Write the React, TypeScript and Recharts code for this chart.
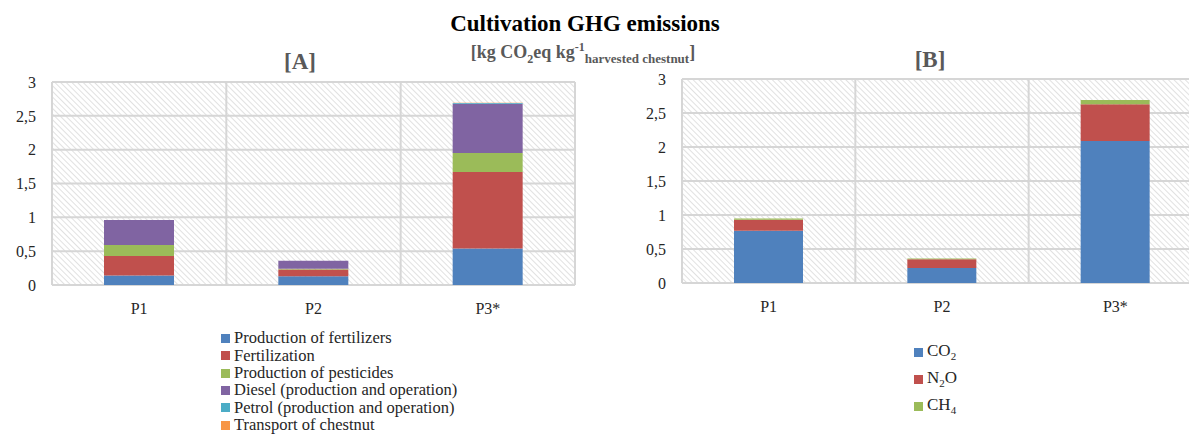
import React from "react";
import { Bar, BarChart, CartesianGrid, XAxis, YAxis } from "recharts";

const categories = ["P1", "P2", "P3*"];

// [A] cultivation GHG by process (kg CO2eq per kg harvested chestnut)
const fertProduction = [0.14, 0.13, 0.54];
const fertilization = [0.29, 0.1, 1.13];
const pesticides = [0.16, 0.01, 0.28];
const diesel = [0.37, 0.12, 0.73];
const petrol = [0, 0, 0.01];
const transport = [0, 0, 0.005];

// [B] by gas
const co2 = [0.77, 0.22, 2.09];
const n2o = [0.16, 0.13, 0.54];
const ch4 = [0.02, 0.01, 0.06];

const yTicks = [0, 0.5, 1, 1.5, 2, 2.5, 3];

const seriesA = [
  { key: "fertProd", name: "Production of fertilizers", color: "#4f81bd" },
  { key: "fertil", name: "Fertilization", color: "#c0504d" },
  { key: "pest", name: "Production of pesticides", color: "#9bbb59" },
  { key: "diesel", name: "Diesel (production and operation)", color: "#8064a2" },
  { key: "petrol", name: "Petrol (production and operation)", color: "#4bacc6" },
  { key: "transport", name: "Transport of chestnut", color: "#f79646" },
];

const seriesB = [
  { key: "co2", name: "CO2", color: "#4f81bd" },
  { key: "n2o", name: "N2O", color: "#c0504d" },
  { key: "ch4", name: "CH4", color: "#9bbb59" },
];

const dataA = categories.map((c, i) => ({
  name: c,
  fertProd: fertProduction[i],
  fertil: fertilization[i],
  pest: pesticides[i],
  diesel: diesel[i],
  petrol: petrol[i],
  transport: transport[i],
}));

const dataB = categories.map((c, i) => ({
  name: c,
  co2: co2[i],
  n2o: n2o[i],
  ch4: ch4[i],
}));

const serif = "'Times New Roman', Tinos, 'Liberation Serif', 'Noto Serif', 'DejaVu Serif', serif";
const gridColor = "#d6d6d6";
const fmt = (v: number) => String(v).replace(".", ",");

// vertical lines on the band edges, plus the plot border
const bandLines = ({ offset }: any) => {
  const w = offset.width / 3;
  return [0, 1, 2, 3].map((i) => offset.left + i * w);
};

function gasLabel(name: string) {
  const m = name.match(/^([A-Z]+)(\d)(.*)$/);
  if (!m) return name;
  return (
    <>
      {m[1]}
      <sub style={{ fontSize: 11 }}>{m[2]}</sub>
      {m[3]}
    </>
  );
}

function LegendList({ items, gap, subs, left, top, size }: any) {
  return (
    <div style={{ position: "absolute", left, top, fontFamily: serif, fontSize: size, lineHeight: 1, color: "#262626" }}>
      {items.map((p: any) => (
        <div key={p.key} style={{ display: "flex", alignItems: "center", height: gap, whiteSpace: "nowrap" }}>
          <span style={{ width: 9, height: 9, background: p.color, marginRight: 4, display: "inline-block" }} />
          <span>{subs ? gasLabel(p.name) : p.name}</span>
        </div>
      ))}
    </div>
  );
}

function Hatch({ id }: { id: string }) {
  return (
    <defs>
      <pattern id={id} patternUnits="userSpaceOnUse" width="4" height="4" patternTransform="rotate(-45)">
        <rect width="4" height="4" fill="#ffffff" />
        <line x1="0" y1="0" x2="0" y2="4" stroke="#c4c4c4" strokeWidth="1" />
      </pattern>
    </defs>
  );
}

export default function App() {
  const tick = { fill: "#262626", fontSize: 16, fontFamily: serif };
  return (
    <div
      style={{
        position: "absolute",
        left: 0,
        top: 0,
        width: 1189,
        height: 439,
        overflow: "hidden",
        background: "#fff",
        fontFamily: serif,
      }}
    >
      <div style={{ position: "absolute", left: 0, width: 1170, top: 11, textAlign: "center", fontWeight: 700, fontSize: 23, color: "#000" }}>
        Cultivation GHG emissions
      </div>
      <div style={{ position: "absolute", left: 0, width: 1166, top: 40, textAlign: "center", fontWeight: 700, fontSize: 18, color: "#595959" }}>
        [kg CO<sub style={{ fontSize: 12 }}>2</sub>eq kg<sup style={{ fontSize: 12 }}>-1</sup>
        <sub style={{ fontSize: 13 }}>harvested chestnut</sub>]
      </div>
      <div style={{ position: "absolute", left: 250, width: 100, top: 49, textAlign: "center", fontWeight: 700, fontSize: 23, color: "#595959" }}>
        [A]
      </div>
      <div style={{ position: "absolute", left: 880, width: 100, top: 47, textAlign: "center", fontWeight: 700, fontSize: 23, color: "#595959" }}>
        [B]
      </div>

      <div style={{ position: "absolute", left: 0, top: 0 }}>
        <BarChart width={600} height={439} data={dataA} margin={{ top: 82, right: 25, left: 0, bottom: 124 }} barSize={70} style={{ fontFamily: serif }}>
          <Hatch id="hatchA" />
          <CartesianGrid
            fill="url(#hatchA)"
            fillOpacity={1}
            stroke={gridColor}
            strokeWidth={2}
            verticalCoordinatesGenerator={bandLines}
          />
          <XAxis dataKey="name" height={30} tick={tick} tickLine={false} axisLine={false} tickMargin={12} />
          <YAxis
            width={52}
            domain={[0, 3]}
            ticks={yTicks}
            interval={0}
            tickFormatter={fmt}
            tick={tick}
            tickLine={false}
            axisLine={false}
            tickSize={0}
            tickMargin={16}
          />
          {seriesA.map((s) => (
            <Bar key={s.key} dataKey={s.key} name={s.name} stackId="a" fill={s.color} isAnimationActive={false} />
          ))}
        </BarChart>
      </div>
      <LegendList items={seriesA} gap={17.3} size={16.5} left={221} top={330} />

      <div style={{ position: "absolute", left: 590, top: 0 }}>
        <BarChart width={612} height={439} data={dataB} margin={{ top: 79, right: 0, left: 0, bottom: 126 }} barSize={69} style={{ fontFamily: serif }}>
          <Hatch id="hatchB" />
          <CartesianGrid
            fill="url(#hatchB)"
            fillOpacity={1}
            stroke={gridColor}
            strokeWidth={2}
            verticalCoordinatesGenerator={bandLines}
          />
          <XAxis dataKey="name" height={30} tick={tick} tickLine={false} axisLine={false} tickMargin={12} />
          <YAxis
            width={92}
            domain={[0, 3]}
            ticks={yTicks}
            interval={0}
            tickFormatter={fmt}
            tick={tick}
            tickLine={false}
            axisLine={false}
            tickSize={0}
            tickMargin={16}
          />
          {seriesB.map((s) => (
            <Bar key={s.key} dataKey={s.key} name={s.name} stackId="b" fill={s.color} isAnimationActive={false} />
          ))}
        </BarChart>
      </div>
      <LegendList items={seriesB} gap={27} size={17} subs left={914} top={339} />
    </div>
  );
}
